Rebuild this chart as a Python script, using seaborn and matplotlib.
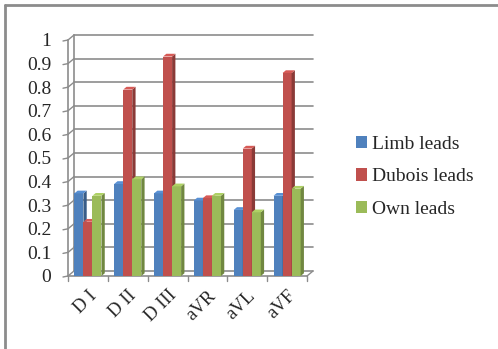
import matplotlib
matplotlib.use("Agg")
import matplotlib.pyplot as plt
import seaborn as sns
import pandas as pd
import numpy as np
from matplotlib.patches import Polygon
from matplotlib.lines import Line2D
from matplotlib.colors import to_rgb
from matplotlib.transforms import IdentityTransform

categories = ["D I", "D II", "D III", "aVR", "aVL", "aVF"]
limb = [0.35, 0.39, 0.35, 0.32, 0.28, 0.34]
dubois = [0.23, 0.79, 0.93, 0.33, 0.54, 0.86]
own = [0.34, 0.41, 0.38, 0.34, 0.27, 0.37]
series = ["Limb leads", "Dubois leads", "Own leads"]
colors = ["#4F81BD", "#C0504D", "#9BBB59"]
yticks = [0, 0.1, 0.2, 0.3, 0.4, 0.5, 0.6, 0.7, 0.8, 0.9, 1]
ylabels = ["0", "0.1", "0.2", "0.3", "0.4", "0.5", "0.6", "0.7", "0.8", "0.9", "1"]

rows = []
for name, vals in zip(series, [limb, dubois, own]):
    for c, v in zip(categories, vals):
        rows.append({"lead": c, "series": name, "value": v})
df = pd.DataFrame(rows)

sns.set_style("white")
plt.rcParams["font.family"] = ["Liberation Serif", "DejaVu Serif"]

W, H = 498, 349
fig = plt.figure(figsize=(W / 100, H / 100), dpi=100)
ax = fig.add_axes([68 / W, 1 - 276 / H, 239 / W, 236 / H])

sns.barplot(data=df, x="lead", y="value", hue="series", palette=colors,
            width=0.68, ax=ax, zorder=3, edgecolor="none", saturation=1)

ax.set_ylim(0, 1)
ax.set_xlim(-0.5, 5.5)
ax.set_yticks(yticks)
ax.set_yticklabels(ylabels, fontsize=14)
ax.set_xticks(range(len(categories)))
ax.set_xticklabels(categories, rotation=45, fontsize=13.5, ha="right",
                   rotation_mode="anchor")
ax.set_xlabel("")
ax.set_ylabel("")
for s in ax.spines.values():
    s.set_visible(False)
ax.tick_params(axis="y", length=0, pad=12)
ax.tick_params(axis="x", length=0, pad=8)

grid_c = "#8c8c8c"
DX, DY = 6, 5  # pseudo-3D depth in pixels
fig.canvas.draw()
T = ax.transData.transform
ID = IdentityTransform()

def seg(xs, ys, lw=1.2):
    ax.add_artist(Line2D(xs, ys, transform=ID, color=grid_c, lw=lw, zorder=1, clip_on=False))

# back wall gridlines + left wall + floor (display coords)
x0, _ = T((-0.5, 0))
x1, _ = T((5.5, 0))
for y in yticks:
    _, yd = T((0, y))
    seg([x0 + DX, x1 + DX], [yd + DY, yd + DY])
    seg([x0, x0 + DX], [yd, yd + DY], 1.0)
    seg([x0 - 5, x0], [yd - 1, yd], 1.0)
_, yb = T((0, 0))
_, yt = T((0, 1))
seg([x0, x0], [yb, yt])
seg([x0 + DX, x0 + DX], [yb + DY, yt + DY])
seg([x1, x1 + DX], [yb, yb + DY], 1.0)
seg([x0, x1], [yb, yb])
for i in range(len(categories) + 1):
    xd, _ = T((i - 0.5, 0))
    seg([xd, xd], [yb, yb - 5], 1.0)

# bar depth faces derived from seaborn's bars; later series drawn on top
bars = [p for p in ax.patches if p.get_height() > 0]
bars.sort(key=lambda p: p.get_x())
for k, p in enumerate(bars):
    x, w, h = p.get_x(), p.get_width(), p.get_height()
    z = 3 + k * 0.01
    p.set_zorder(z + 0.005)
    c = np.array(to_rgb(p.get_facecolor()))
    (xl, yb0), (xr, yt0) = T((x, 0)), T((x + w, h))
    d, e = DX * 0.55, DY * 0.55
    side = Polygon([(xr, yb0), (xr + d, yb0 + e), (xr + d, yt0 + e), (xr, yt0)],
                   closed=True, transform=ID, facecolor=c * 0.72, edgecolor="none",
                   zorder=z + 0.006, clip_on=False)
    top = Polygon([(xl, yt0), (xl + d, yt0 + e), (xr + d, yt0 + e), (xr, yt0)],
                  closed=True, transform=ID, facecolor=np.minimum(c * 1.12, 1),
                  edgecolor="none", zorder=z + 0.006, clip_on=False)
    ax.add_artist(side)
    ax.add_artist(top)

leg = ax.legend(loc="center left", bbox_to_anchor=(1.13, 0.42), frameon=False,
                fontsize=14, handlelength=0.6, handleheight=0.6, handletextpad=0.25,
                labelspacing=0.8)

# outer frame: left and top edges
fig.add_artist(Line2D([4.5, 4.5], [0, H - 5], transform=ID, color=grid_c, lw=2))
fig.add_artist(Line2D([4.5, W], [H - 5, H - 5], transform=ID, color=grid_c, lw=2))

fig.savefig("out.png", dpi=100)
